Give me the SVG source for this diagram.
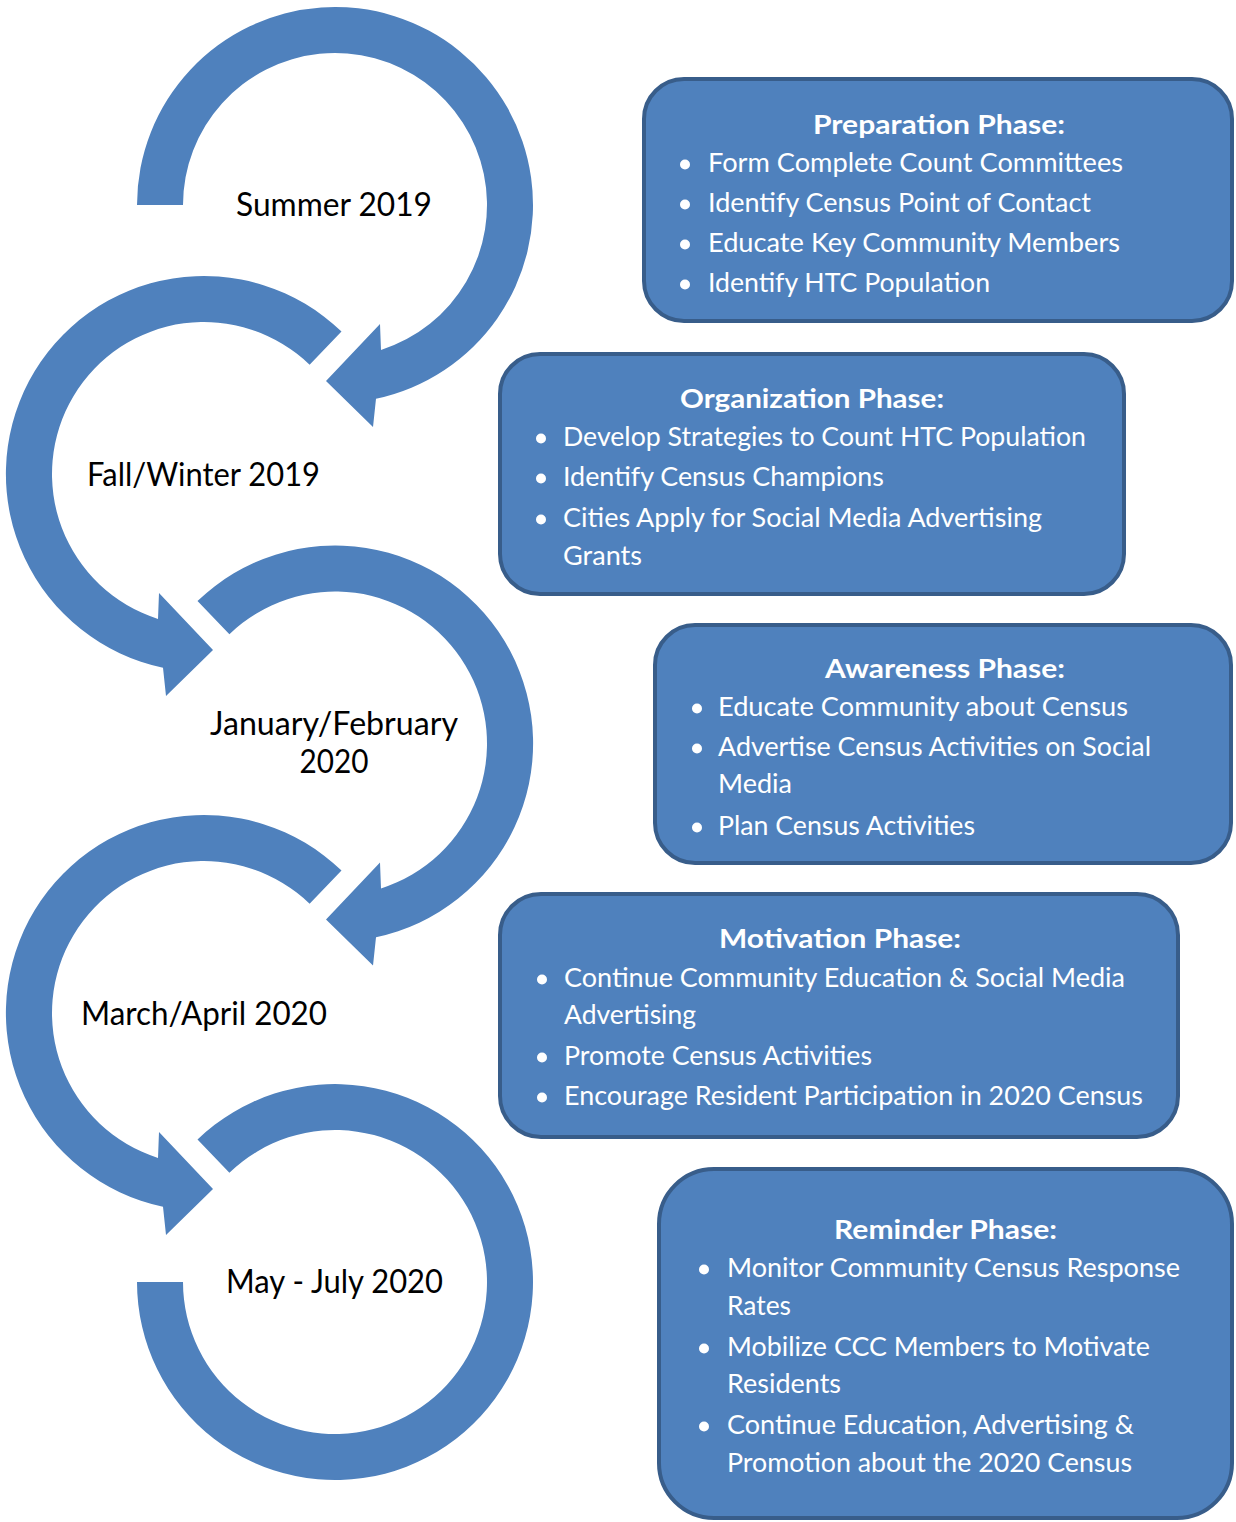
<svg xmlns="http://www.w3.org/2000/svg" width="1236" height="1522" viewBox="0 0 1236 1522">
<style>
.ring{fill:#4F81BD}
.box{fill:#4F81BD;stroke:#385D8A;stroke-width:4}
.title{font-family:Lato,"Open Sans","Liberation Sans",sans-serif;font-weight:bold;font-size:27.5px;fill:#FFFFFF;text-anchor:middle}
.item{font-family:Lato,"Open Sans","Liberation Sans",sans-serif;font-size:27.5px;fill:#FFFFFF}
.dot{fill:#FFFFFF}
.label{font-family:Lato,"Open Sans","Liberation Sans",sans-serif;font-size:32.5px;fill:#000000;text-anchor:middle}
</style>
<rect width="1236" height="1522" fill="#FFFFFF"/>
<g id="connectors">
<path id="ring1" class="ring" d="M137,205 A198,198 0 1 1 376,398.7 L373,427 L326,381 L380,324 L381,349.9 A152,152 0 1 0 183,205 Z"/>
<path id="ring2" class="ring" d="M341.5,331.6 A198,198 0 1 0 163,667.7 L166,696 L213,650 L159,593 L158,618.9 A152,152 0 1 1 309.6,364.7 Z"/>
<path id="ring3" class="ring" d="M197.5,601.1 A198,198 0 1 1 376,937.2 L373,965.5 L326,919.5 L380,862.5 L381,888.4 A152,152 0 1 0 229.4,634.2 Z"/>
<path id="ring4" class="ring" d="M341.5,870.6 A198,198 0 1 0 163,1206.7 L166,1235 L213,1189 L159,1132 L158,1157.9 A152,152 0 1 1 309.6,903.7 Z"/>
<path id="ring5" class="ring" d="M197.5,1139.6 A198,198 0 1 1 137,1282 L183,1282 A152,152 0 1 0 229.4,1172.7 Z"/>
</g>
<g id="period-summer-2019"><text class="label" x="334" y="216" textLength="196" lengthAdjust="spacingAndGlyphs">Summer 2019</text></g>
<g id="period-fall-winter-2019"><text class="label" x="203.5" y="486" textLength="233" lengthAdjust="spacingAndGlyphs">Fall/Winter 2019</text></g>
<g id="period-jan-feb-2020"><text class="label" x="334" y="735" textLength="248" lengthAdjust="spacingAndGlyphs">January/February</text><text class="label" x="334" y="773" textLength="69" lengthAdjust="spacingAndGlyphs">2020</text></g>
<g id="period-mar-apr-2020"><text class="label" x="204" y="1025" textLength="246" lengthAdjust="spacingAndGlyphs">March/April 2020</text></g>
<g id="period-may-jul-2020"><text class="label" x="334.5" y="1293" textLength="217" lengthAdjust="spacingAndGlyphs">May - July 2020</text></g>

<g id="preparation-phase">
<rect class="box" x="644" y="79" width="588" height="242" rx="40" ry="40"/>
<text class="title" x="939" y="134" textLength="252" lengthAdjust="spacingAndGlyphs">Preparation Phase:</text>
<circle class="dot" cx="685" cy="164.5" r="5"/><text class="item" x="708" y="172" textLength="415" lengthAdjust="spacingAndGlyphs">Form Complete Count Committees</text>
<circle class="dot" cx="685" cy="204.5" r="5"/><text class="item" x="708" y="212" textLength="383" lengthAdjust="spacingAndGlyphs">Identify Census Point of Contact</text>
<circle class="dot" cx="685" cy="244.5" r="5"/><text class="item" x="708" y="252" textLength="412" lengthAdjust="spacingAndGlyphs">Educate Key Community Members</text>
<circle class="dot" cx="685" cy="284.5" r="5"/><text class="item" x="708" y="292" textLength="282" lengthAdjust="spacingAndGlyphs">Identify HTC Population</text>
</g>

<g id="organization-phase">
<rect class="box" x="500" y="354" width="624" height="240" rx="40" ry="40"/>
<text class="title" x="812" y="408" textLength="264" lengthAdjust="spacingAndGlyphs">Organization Phase:</text>
<circle class="dot" cx="541" cy="438.5" r="5"/><text class="item" x="563" y="446" textLength="523" lengthAdjust="spacingAndGlyphs">Develop Strategies to Count HTC Population</text>
<circle class="dot" cx="541" cy="478.5" r="5"/><text class="item" x="563" y="486" textLength="321" lengthAdjust="spacingAndGlyphs">Identify Census Champions</text>
<circle class="dot" cx="541" cy="519.5" r="5"/><text class="item" x="563" y="527" textLength="479" lengthAdjust="spacingAndGlyphs">Cities Apply for Social Media Advertising</text>
<text class="item" x="563" y="565" textLength="79" lengthAdjust="spacingAndGlyphs">Grants</text>
</g>

<g id="awareness-phase">
<rect class="box" x="655" y="625" width="576" height="238" rx="40" ry="40"/>
<text class="title" x="945" y="678" textLength="240" lengthAdjust="spacingAndGlyphs">Awareness Phase:</text>
<circle class="dot" cx="697" cy="708.5" r="5"/><text class="item" x="718" y="716" textLength="410" lengthAdjust="spacingAndGlyphs">Educate Community about Census</text>
<circle class="dot" cx="697" cy="748.5" r="5"/><text class="item" x="718" y="756" textLength="433" lengthAdjust="spacingAndGlyphs">Advertise Census Activities on Social</text>
<text class="item" x="718" y="793" textLength="74" lengthAdjust="spacingAndGlyphs">Media</text>
<circle class="dot" cx="697" cy="827.5" r="5"/><text class="item" x="718" y="835" textLength="257" lengthAdjust="spacingAndGlyphs">Plan Census Activities</text>
</g>

<g id="motivation-phase">
<rect class="box" x="500" y="894" width="678" height="243" rx="41" ry="41"/>
<text class="title" x="840" y="948" textLength="242" lengthAdjust="spacingAndGlyphs">Motivation Phase:</text>
<circle class="dot" cx="542" cy="979.5" r="5"/><text class="item" x="564" y="987" textLength="561" lengthAdjust="spacingAndGlyphs">Continue Community Education &amp; Social Media</text>
<text class="item" x="564" y="1024" textLength="132" lengthAdjust="spacingAndGlyphs">Advertising</text>
<circle class="dot" cx="542" cy="1057.5" r="5"/><text class="item" x="564" y="1065" textLength="308" lengthAdjust="spacingAndGlyphs">Promote Census Activities</text>
<circle class="dot" cx="542" cy="1097.5" r="5"/><text class="item" x="564" y="1105" textLength="579" lengthAdjust="spacingAndGlyphs">Encourage Resident Participation in 2020 Census</text>
</g>

<g id="reminder-phase">
<rect class="box" x="659" y="1169" width="573" height="349" rx="55" ry="55"/>
<text class="title" x="945.5" y="1239" textLength="223" lengthAdjust="spacingAndGlyphs">Reminder Phase:</text>
<circle class="dot" cx="704" cy="1269.5" r="5"/><text class="item" x="727" y="1277" textLength="453" lengthAdjust="spacingAndGlyphs">Monitor Community Census Response</text>
<text class="item" x="727" y="1315" textLength="64" lengthAdjust="spacingAndGlyphs">Rates</text>
<circle class="dot" cx="704" cy="1348.5" r="5"/><text class="item" x="727" y="1356" textLength="423" lengthAdjust="spacingAndGlyphs">Mobilize CCC Members to Motivate</text>
<text class="item" x="727" y="1393" textLength="114" lengthAdjust="spacingAndGlyphs">Residents</text>
<circle class="dot" cx="704" cy="1426.5" r="5"/><text class="item" x="727" y="1434" textLength="407" lengthAdjust="spacingAndGlyphs">Continue Education, Advertising &amp;</text>
<text class="item" x="727" y="1472" textLength="405" lengthAdjust="spacingAndGlyphs">Promotion about the 2020 Census</text>
</g>
</svg>
